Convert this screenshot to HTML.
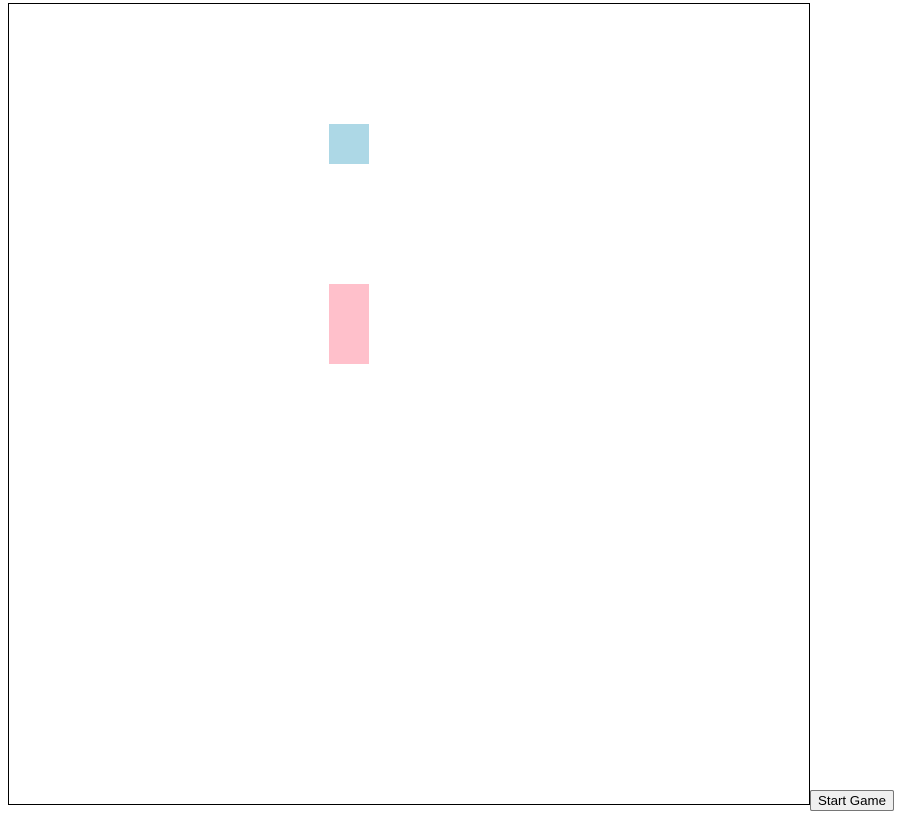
<!DOCTYPE html>
<html><head><meta charset="utf-8"><style>
html,body{margin:0;padding:0;background:#fff;width:901px;height:817px;overflow:hidden;font-family:"Liberation Sans",Arial,sans-serif}
#board{position:absolute;left:8px;top:3px;width:800px;height:800px;border:1px solid #000;background:#fff}
#start{position:absolute;left:810px;top:790px;width:84px;height:21px;box-sizing:border-box;border:1px solid #767676;border-radius:2px;background:#efefef;font-size:13.3px;padding:0;font-family:"Liberation Sans",Arial,sans-serif;color:#000}
.cell{position:absolute;width:40px;height:40px}
</style></head><body>
<div id="board"></div>
<button id="start">Start Game</button>
<script>
const snakeX=[8,8];
const snakeY=[7,8];
const foodX=[8];
const foodY=[3];
const CELL=40;
const board=document.getElementById('board');
function px(v){return v*CELL;}
for(let i=0;i<snakeX.length;i++){
  const d=document.createElement('div');
  d.className='cell';
  d.style.left=px(snakeX[i])+'px';d.style.top=px(snakeY[i])+'px';d.style.background='pink';
  
  
  board.appendChild(d);
}
for(let i=0;i<foodX.length;i++){
  const f=document.createElement('div');
  f.className='cell';
  f.style.left=px(foodX[i])+'px';f.style.top=px(foodY[i])+'px';f.style.background='lightblue';
  
  
  board.appendChild(f);
}
</script>
</body></html>
